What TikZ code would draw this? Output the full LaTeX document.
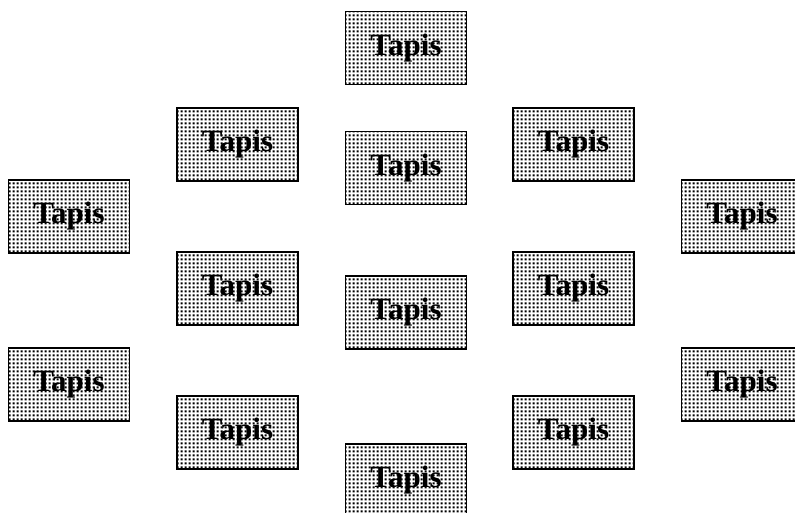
\documentclass[tikz,border=0pt]{standalone}
\usepackage{fontspec}
\setmainfont{Liberation Serif}
\usetikzlibrary{patterns.meta}
\pgfdeclarepattern{
  name=sqdots,
  type=uncolored,
  bottom left={\pgfpoint{0pt}{0pt}},
  top right={\pgfpoint{4pt}{4pt}},
  tile size={\pgfpoint{4pt}{4pt}},
  code={\pgfpathrectangle{\pgfpoint{0.75pt}{0.75pt}}{\pgfpoint{2.5pt}{2.5pt}}\pgfusepath{fill}}
}
\tikzset{
  tapisbox/.style={draw=black, line width=1.6pt, pattern=sqdots, pattern color=black,
    minimum width=121pt, minimum height=73pt, inner sep=0pt,
    font=\bfseries\fontsize{31}{31}\selectfont}
}
\newcommand{\tapistext}{\raisebox{6pt}{Tapis}}
\begin{document}
\begin{tikzpicture}[x=1pt,y=-1pt]
\useasboundingbox (0,0) rectangle (795,513);
\clip (0,0) rectangle (795,513);
\node[tapisbox] (t1) at (406,48) {\tapistext};
\node[tapisbox] (t2) at (237.5,144.5) {\tapistext};
\node[tapisbox] (t3) at (406,168) {\tapistext};
\node[tapisbox] (t4) at (573.5,144.5) {\tapistext};
\node[tapisbox] (t5) at (69,216.5) {\tapistext};
\node[tapisbox] (t6) at (742,216.5) {\tapistext};
\node[tapisbox] (t7) at (237.5,288.5) {\tapistext};
\node[tapisbox] (t8) at (406,312.5) {\tapistext};
\node[tapisbox] (t9) at (573.5,288.5) {\tapistext};
\node[tapisbox] (t10) at (69,384.5) {\tapistext};
\node[tapisbox] (t11) at (742,384.5) {\tapistext};
\node[tapisbox] (t12) at (237.5,432.5) {\tapistext};
\node[tapisbox] (t13) at (573.5,432.5) {\tapistext};
\node[tapisbox] (t14) at (406,480.5) {\tapistext};
\end{tikzpicture}
\end{document}
